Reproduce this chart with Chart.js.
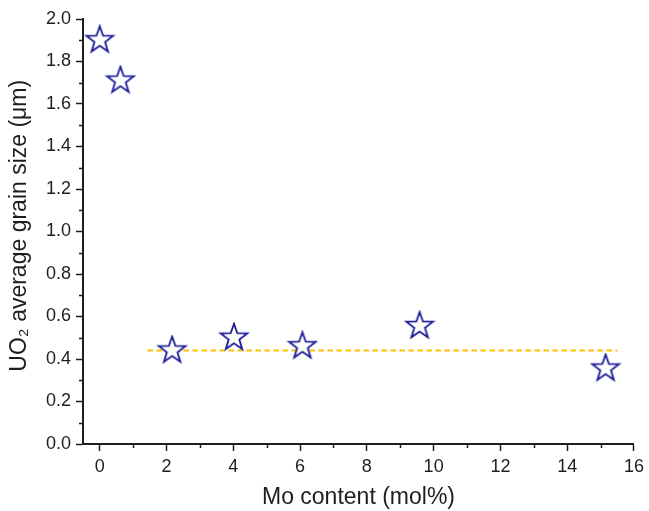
<!DOCTYPE html>
<html>
<head>
<meta charset="utf-8">
<script src="https://cdn.jsdelivr.net/npm/chart.js@4/dist/chart.umd.min.js"></script>
<style>
  html, body { margin: 0; padding: 0; background: #fff; }
  #wrap { width: 649px; height: 511px; }
</style>
</head>
<body>
<div id="wrap"><canvas id="grainChart" width="649" height="511"></canvas></div>
<script>
// data
const moContent = [0, 0.62, 2.17, 4.02, 6.07, 9.58, 15.15];
const grainSize = [1.90, 1.71, 0.44, 0.50, 0.46, 0.555, 0.355];
const avgLineX = [1.43, 15.5];
const avgLineY = [0.44, 0.44];
const xTicks = [0, 2, 4, 6, 8, 10, 12, 14, 16];
const yTicks = [0, 0.2, 0.4, 0.6, 0.8, 1.0, 1.2, 1.4, 1.6, 1.8, 2.0];

const ink = '#1e1e1e';
const starBlue = '#1a1a96';
const fontFam = 'Liberation Sans, Arial, sans-serif';

// hollow five-point star used as the marker
function makeStar(r) {
  const size = Math.ceil(r * 2 + 4);
  const c = document.createElement('canvas');
  c.width = size; c.height = size;
  const g = c.getContext('2d');
  const cx = size / 2, cy = size / 2, inner = r * 0.4;
  g.beginPath();
  for (let i = 0; i < 10; i++) {
    const rad = i % 2 === 0 ? r : inner;
    const a = -Math.PI / 2 + i * Math.PI / 5;
    const px = cx + rad * Math.cos(a), py = cy + rad * Math.sin(a);
    if (i === 0) g.moveTo(px, py); else g.lineTo(px, py);
  }
  g.closePath();
  g.fillStyle = '#fff';
  g.fill();
  g.lineWidth = 1.8;
  g.strokeStyle = starBlue;
  g.stroke();
  return c;
}
const star = makeStar(14);

// minor ticks halfway between the major ones
const minorTicks = {
  id: 'minorTicks',
  afterDraw(chart) {
    const { ctx, scales: { x, y } } = chart;
    ctx.save();
    ctx.strokeStyle = ink;
    ctx.lineWidth = 1.5;
    ctx.beginPath();
    for (let i = 0; i < xTicks.length - 1; i++) {
      const px = Math.round(x.getPixelForValue((xTicks[i] + xTicks[i + 1]) / 2)) + 0.5;
      ctx.moveTo(px, y.bottom);
      ctx.lineTo(px, y.bottom + 4);
    }
    for (let i = 0; i < yTicks.length - 1; i++) {
      const py = Math.round(y.getPixelForValue((yTicks[i] + yTicks[i + 1]) / 2)) + 0.5;
      ctx.moveTo(x.left, py);
      ctx.lineTo(x.left - 4, py);
    }
    ctx.stroke();
    ctx.restore();
  }
};

const ctx = document.getElementById('grainChart').getContext('2d');
new Chart(ctx, {
  type: 'scatter',
  data: {
    datasets: [
      {
        label: 'grain size',
        data: moContent.map((m, i) => ({ x: m, y: grainSize[i] })),
        pointStyle: star,
        pointRadius: 14,
        order: 0
      },
      {
        type: 'line',
        label: 'average',
        data: avgLineX.map((m, i) => ({ x: m, y: avgLineY[i] })),
        borderColor: '#ffc000',
        borderWidth: 2,
        borderDash: [5.5, 3.5],
        pointRadius: 0,
        fill: false,
        order: 1
      }
    ]
  },
  options: {
    responsive: false,
    animation: false,
    layout: { padding: { top: 19, right: 12, left: 0, bottom: 0 } },
    plugins: {
      legend: { display: false },
      tooltip: { enabled: false }
    },
    scales: {
      x: {
        type: 'linear',
        min: -0.5,
        max: 16,
        afterFit: s => { s.height = 67; },
        afterBuildTicks: s => { s.ticks = xTicks.map(v => ({ value: v })); },
        ticks: {
          color: ink,
          font: { family: fontFam, size: 18 },
          padding: 5,
          maxRotation: 0
        },
        grid: {
          drawOnChartArea: false,
          drawTicks: true,
          tickLength: 7,
          tickWidth: 1.5,
          tickColor: ink
        },
        border: { color: ink, width: 2 },
        title: {
          display: true,
          text: 'Mo content (mol%)',
          color: ink,
          font: { family: fontFam, size: 23 },
          padding: { top: 1, bottom: 0 }
        }
      },
      y: {
        min: 0,
        max: 2,
        afterFit: s => { s.width = 83; },
        afterBuildTicks: s => { s.ticks = yTicks.map(v => ({ value: v })); },
        ticks: {
          color: ink,
          font: { family: fontFam, size: 18 },
          padding: 5,
          callback: v => v.toFixed(1)
        },
        grid: {
          drawOnChartArea: false,
          drawTicks: true,
          tickLength: 7,
          tickWidth: 1.5,
          tickColor: ink
        },
        border: { color: ink, width: 2 },
        title: {
          display: true,
          text: '\u2002UO\u2082 average grain size (\u03bcm)',
          color: ink,
          font: { family: fontFam, size: 23 },
          padding: { top: 6, bottom: 0 }
        }
      }
    }
  },
  plugins: [minorTicks]
});
</script>
</body>
</html>
